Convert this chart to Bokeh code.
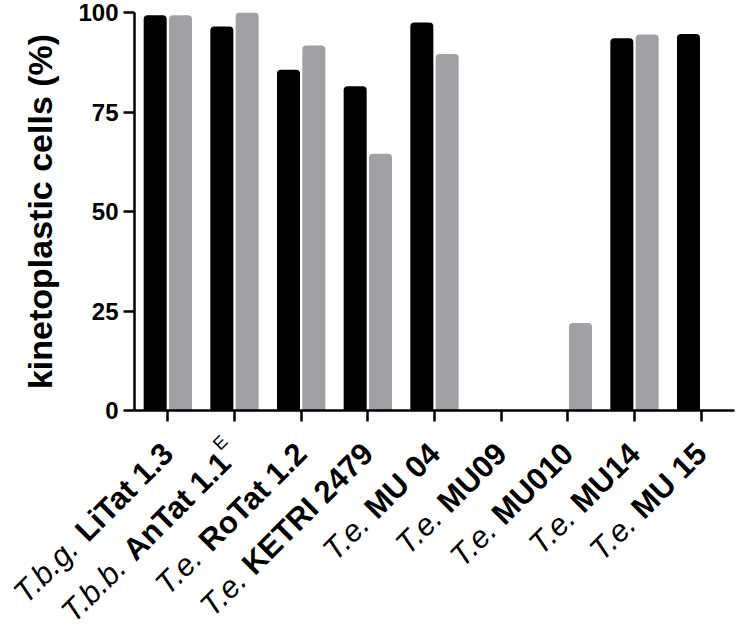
import math
from bokeh.plotting import figure
from bokeh.models import ColumnDataSource, FactorRange, FixedTicker
from bokeh.transform import dodge
from bokeh.core.properties import value
from bokeh.embed import file_html
from bokeh.resources import INLINE

# ---- data ----
strains = ["LiTat 1.3", "AnTat 1.1", "RoTat 1.2", "KETRI 2479", "MU 04",
           "MU09", "MU010", "MU14", "MU 15"]
species = ["T.b.g.", "T.b.b.", "T.e.", "T.e.", "T.e.", "T.e.", "T.e.", "T.e.", "T.e."]
superscripts = ["", "E", "", "", "", "", "", "", ""]
black_values = [99.3, 96.5, 85.6, 81.5, 97.5, 0, 0, 93.5, 94.6]
gray_values = [99.3, 100.0, 91.7, 64.5, 89.6, 0, 22.0, 94.5, 0]
y_ticks = [0, 25, 50, 75, 100]
y_label = "kinetoplastic cells (%)"

FONT = "Liberation Sans"

# Arial / Liberation Sans advance widths (per 1000 em)
BOLD_W = {' ': 278, '.': 278, 'A': 722, 'E': 667, 'I': 278, 'K': 722, 'L': 611,
          'M': 833, 'R': 722, 'T': 611, 'U': 722, 'a': 556, 'i': 278, 'n': 611,
          'o': 611, 't': 333}
for d in "0123456789":
    BOLD_W[d] = 556
REG_W = {' ': 278, '.': 278, 'T': 611, 'b': 556, 'g': 556, 'e': 556, 'E': 667}


def text_width(s, table, size):
    return sum(table.get(c, 556) for c in s) / 1000.0 * size


W, H = 736, 628
p = figure(x_range=FactorRange(*strains), y_range=(0, 100),
           width=W, height=H, output_backend="svg", toolbar_location=None,
           min_border_left=134, min_border_right=2, min_border_top=12,
           min_border_bottom=H - 410)
p.outline_line_color = None
p.xgrid.visible = False
p.ygrid.visible = False
p.background_fill_color = "white"
p.border_fill_color = "white"

src = ColumnDataSource(dict(strain=strains, black=black_values, gray=gray_values))
p.vbar(x=dodge('strain', -0.19, range=p.x_range), top='black', width=0.345,
       source=src, fill_color="#000000", line_color=None, border_radius=(4, 4, 0, 0))
p.vbar(x=dodge('strain', 0.19, range=p.x_range), top='gray', width=0.345,
       source=src, fill_color="#a1a1a5", line_color=None, border_radius=(4, 4, 0, 0))

# y axis
ya = p.yaxis[0]
ya.ticker = FixedTicker(ticks=y_ticks)
ya.minor_tick_line_color = None
ya.major_tick_out = 11
ya.major_tick_in = 0
ya.major_tick_line_width = 2.5
ya.axis_line_width = 2.5
ya.major_label_text_font = FONT
ya.major_label_text_font_style = "bold"
ya.major_label_text_font_size = "24px"
ya.major_label_text_color = "black"
ya.major_label_standoff = 5
ya.axis_label = y_label
ya.axis_label_text_font = FONT
ya.axis_label_text_font_style = "bold"
ya.axis_label_text_font_size = "34px"
ya.axis_label_text_color = "black"
ya.axis_label_standoff = 16

# x axis (its own labels are drawn below as mixed-style text)
xa = p.xaxis[0]
xa.major_label_text_color = None
xa.major_label_text_font_size = "10px"
xa.major_tick_out = 11
xa.major_tick_in = 0
xa.major_tick_line_width = 2.5
xa.axis_line_width = 2.5
xa.minor_tick_line_color = None

# rotated, mixed-style category labels
theta = math.radians(45)
cos_t, sin_t = math.cos(theta), math.sin(theta)
size_main = 31
size_sup = 18
drop = 38        # px below axis for the label anchor
raise_sup = 14   # px the superscript is raised

bx, bxo, byo, bt = [], [], [], []
ix, ixo, iyo, it = [], [], [], []
sx, sxo, syo, st = [], [], [], []
for sp_, strain, sup in zip(species, strains, superscripts):
    d = 0.0
    if sup:
        sx.append(strain)
        sxo.append(-raise_sup * sin_t)
        syo.append(drop - raise_sup * cos_t)
        st.append(sup)
        d += text_width(sup, REG_W, size_sup) + 1
    bx.append(strain)
    bxo.append(-d * cos_t)
    byo.append(drop + d * sin_t)
    bt.append(strain)
    d += text_width(strain, BOLD_W, size_main) + text_width(" ", BOLD_W, size_main)
    ix.append(strain)
    ixo.append(-d * cos_t)
    iyo.append(drop + d * sin_t)
    it.append(sp_)

common = dict(angle=theta, text_align="right", text_baseline="middle",
              text_font=value(FONT), text_color="black")
r1 = p.text(x='x', y=0, text='t', x_offset='xo', y_offset='yo',
            source=ColumnDataSource(dict(x=bx, xo=bxo, yo=byo, t=bt)),
            text_font_style="bold", text_font_size=f"{size_main}px", **common)
r2 = p.text(x='x', y=0, text='t', x_offset='xo', y_offset='yo',
            source=ColumnDataSource(dict(x=ix, xo=ixo, yo=iyo, t=it)),
            text_font_style="italic", text_font_size=f"{size_main}px", **common)
r3 = p.text(x='x', y=0, text='t', x_offset='xo', y_offset='yo',
            source=ColumnDataSource(dict(x=sx, xo=sxo, yo=syo, t=st)),
            text_font_style="normal", text_font_size=f"{size_sup}px", **common)
for r in (r1, r2, r3):
    r.level = "overlay"

open("out.html", "w").write(file_html(p, INLINE))
